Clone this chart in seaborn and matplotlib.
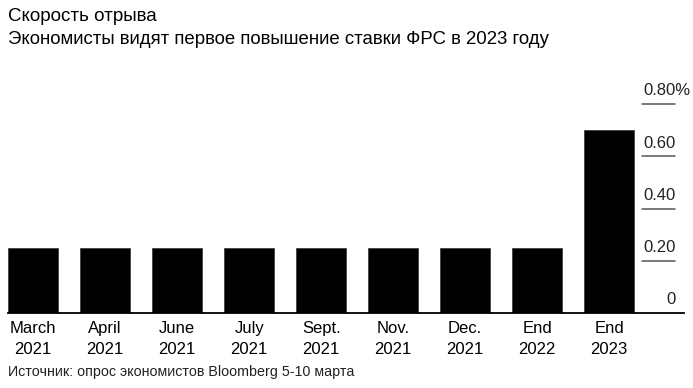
import matplotlib
matplotlib.use('Agg')
import matplotlib.pyplot as plt
import matplotlib.transforms as mtransforms
import seaborn as sns
import pandas as pd

# ── данные ────────────────────────────────────────────────────────────────
periods = ['March\n2021', 'April\n2021', 'June\n2021', 'July\n2021', 'Sept.\n2021',
           'Nov.\n2021', 'Dec.\n2021', 'End\n2022', 'End\n2023']
rates = [0.25, 0.25, 0.25, 0.25, 0.25, 0.25, 0.25, 0.25, 0.70]
y_ticks = [0, 0.20, 0.40, 0.60, 0.80]
y_labels = ['0', '0.20', '0.40', '0.60', '0.80%']

title = 'Скорость отрыва'
subtitle = 'Экономисты видят первое повышение ставки ФРС в 2023 году'
source = 'Источник: опрос экономистов Bloomberg 5-10 марта'

sns.set_style('white')
plt.rcParams['font.family'] = ['Liberation Sans', 'DejaVu Sans']

df = pd.DataFrame({'period': periods, 'rate': rates})

W, H = 693, 388
fig = plt.figure(figsize=(W / 100, H / 100), dpi=100)
ax = fig.add_axes([8 / W, (H - 313) / H, (684 - 8) / W, (313 - 104) / H])

sns.barplot(data=df, x='period', y='rate', color='black', saturation=1,
            width=0.69, ax=ax, edgecolor='#333333', linewidth=0.5)

ax.set_xlim(-0.35, 9.04)
ax.set_ylim(0, 0.8)
ax.set_xlabel(''); ax.set_ylabel('')
ax.set_yticks([])
ax.tick_params(axis='x', length=0, pad=6, labelsize=12, colors='black')
for lbl in ax.get_xticklabels():
    lbl.set_linespacing(1.45)

for sp in ['top', 'left', 'right']:
    ax.spines[sp].set_visible(False)
ax.spines['bottom'].set_color('black')
ax.spines['bottom'].set_linewidth(1.3)

# подписи оси Y справа: короткие черточки и числа над ними
blend = mtransforms.blended_transform_factory(fig.transFigure, ax.transData)
lift = mtransforms.ScaledTranslation(0, 4 / 72, fig.dpi_scale_trans)
for v, s in zip(y_ticks, y_labels):
    if v > 0:
        ax.plot([642 / W, 675 / W], [v, v], color='#555555', lw=1.1,
                transform=blend, clip_on=False)
    if s.endswith('%'):
        ax.text(643 / W, v, s, transform=blend + lift,
                ha='left', va='bottom', fontsize=12, color='#222222')
    else:
        ax.text(676 / W, v, s, transform=blend + lift,
                ha='right', va='bottom', fontsize=12, color='#222222')

fig.text(8 / W, 1 - 8 / H, title, ha='left', va='top', fontsize=13.5, color='black')
fig.text(8 / W, 1 - 31 / H, subtitle, ha='left', va='top', fontsize=13.4, color='black')
fig.text(8 / W, 1 - 365 / H, source, ha='left', va='top', fontsize=10.3, color='#222222')

fig.savefig('out.png', dpi=100)
